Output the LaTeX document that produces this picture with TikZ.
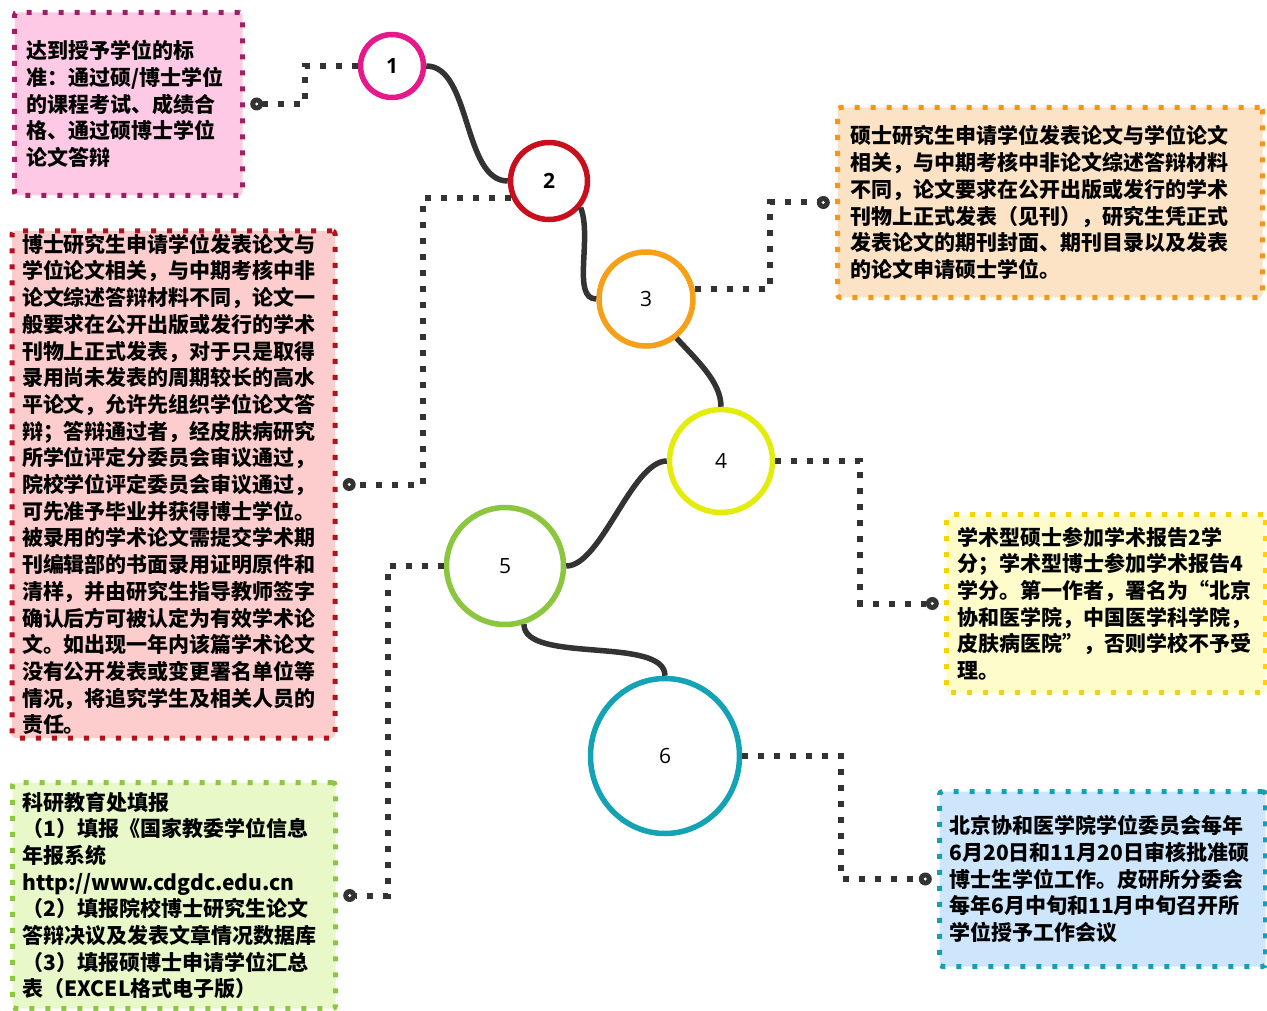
\documentclass[tikz,border=0pt]{standalone}
\usepackage{fontspec}
\usepackage{xcolor}
\usepackage{tikz}
\usetikzlibrary{positioning,shapes.geometric}
\newfontfamily\cjk{Noto Sans CJK SC}
\newfontfamily\numfont{Open Sans}
\definecolor{linegray}{HTML}{333333}
\definecolor{pinkfill}{HTML}{FDC9E4}
\definecolor{pinkline}{HTML}{9E1F63}
\definecolor{redfill}{HTML}{FDCDCD}
\definecolor{redline}{HTML}{B3111B}
\definecolor{greenfill}{HTML}{E8F8C9}
\definecolor{greenline}{HTML}{8DC63F}
\definecolor{orangefill}{HTML}{FDE3C6}
\definecolor{orangeline}{HTML}{F7941E}
\definecolor{yellowfill}{HTML}{FEFCCB}
\definecolor{yellowline}{HTML}{F4D20C}
\definecolor{bluefill}{HTML}{CDE6FB}
\definecolor{blueline}{HTML}{16A0AE}
\definecolor{stageone}{HTML}{E5198A}
\definecolor{stagetwo}{HTML}{C80F1E}
\definecolor{stagethree}{HTML}{F6A01A}
\definecolor{stagefour}{HTML}{E4EC0C}
\definecolor{stagefive}{HTML}{8CC63E}
\definecolor{stagesix}{HTML}{13A3B5}

\begin{document}
\begin{tikzpicture}[x=1pt, y=-1pt,
  infobox/.style={rectangle, rounded corners=3pt, line width=5pt, dash pattern=on 5pt off 11pt, anchor=north west, align=left, inner ysep=0pt, font=\cjk\bfseries\fontsize{21pt}{26.7pt}\selectfont},
  stage/.style={circle, line width=5.5pt, inner sep=0pt, font=\numfont\fontsize{21pt}{25pt}\selectfont},
  jointdot/.style={circle, fill=linegray, minimum size=13pt, inner sep=0pt, path picture={\fill[white] (path picture bounding box.center) circle (1.6pt);}},
  dotline/.style={draw=linegray, line width=6pt, dash pattern=on 6pt off 10pt},
  wire/.style={draw=linegray, line width=5.5pt}]
\useasboundingbox (0,0) rectangle (1267,1011);

\node[infobox, draw=pinkline, fill=pinkfill, minimum width=228pt, minimum height=183pt, text width=204pt, inner xsep=12pt] (pinkbox) at (12,10) {达到授予学位的标\\准：通过硕/博士学位\\的课程考试、成绩合\\格、通过硕博士学位\\论文答辩};
\node[infobox, draw=redline, fill=redfill, minimum width=323pt, minimum height=507pt, text width=303pt, inner xsep=10pt] (redbox) at (9.5,228.5) {博士研究生申请学位发表论文与\\学位论文相关，与中期考核中非\\论文综述答辩材料不同，论文一\\般要求在公开出版或发行的学术\\刊物上正式发表，对于只是取得\\录用尚未发表的周期较长的高水\\平论文，允许先组织学位论文答\\辩；答辩通过者，经皮肤病研究\\所学位评定分委员会审议通过，\\院校学位评定委员会审议通过，\\可先准予毕业并获得博士学位。\\被录用的学术论文需提交学术期\\刊编辑部的书面录用证明原件和\\清样，并由研究生指导教师签字\\确认后方可被认定为有效学术论\\文。如出现一年内该篇学术论文\\没有公开发表或变更署名单位等\\情况，将追究学生及相关人员的\\责任。};
\node[infobox, draw=greenline, fill=greenfill, minimum width=323pt, minimum height=226pt, text width=303pt, inner xsep=10pt] (greenbox) at (10,780) {科研教育处填报\\（1）填报《国家教委学位信息\\年报系统\\http://www.cdgdc.edu.cn\\（2）填报院校博士研究生论文\\答辩决议及发表文章情况数据库\\（3）填报硕博士申请学位汇总\\表（EXCEL格式电子版）};
\node[infobox, draw=orangeline, fill=orangefill, minimum width=425pt, minimum height=190pt, text width=399pt, inner xsep=13pt] (orangebox) at (835,105) {硕士研究生申请学位发表论文与学位论文\\相关，与中期考核中非论文综述答辩材料\\不同，论文要求在公开出版或发行的学术\\刊物上正式发表（见刊），研究生凭正式\\发表论文的期刊封面、期刊目录以及发表\\的论文申请硕士学位。};
\node[infobox, draw=yellowline, fill=yellowfill, minimum width=319pt, minimum height=178pt, text width=297pt, inner xsep=11pt] (yellowbox) at (944,512) {学术型硕士参加学术报告2学\\分；学术型博士参加学术报告4\\学分。第一作者，署名为“北京\\协和医学院，中国医学科学院，\\皮肤病医院”，否则学校不予受\\理。};
\node[infobox, draw=blueline, fill=bluefill, minimum width=326pt, minimum height=175pt, text width=306pt, inner xsep=10pt] (bluebox) at (937,789) {北京协和医学院学位委员会每年\\6月20日和11月20日审核批准硕\\博士生学位工作。皮研所分委会\\每年6月中旬和11月中旬召开所\\学位授予工作会议};

\node[jointdot, right=5pt of pinkbox] (pinkdot) {};
\node[jointdot, right=5pt of redbox] (reddot) {};
\node[jointdot, right=5pt of greenbox] (greendot) {};
\node[jointdot, left=5pt of orangebox] (orangedot) {};
\node[jointdot, left=5pt of yellowbox] (yellowdot) {};
\node[jointdot, left=5pt of bluebox] (bluedot) {};

\node[stage, draw=stageone, minimum size=63pt] (one) at (392,66) {\bfseries 1};
\node[stage, draw=stagetwo, minimum size=77pt] (two) at (549,181) {\bfseries 2};
\node[stage, draw=stagethree, minimum size=94pt] (three) at (646,299) {3};
\node[stage, draw=stagefour, minimum size=103pt] (four) at (721,461) {4};
\node[stage, draw=stagefive, minimum size=117pt] (five) at (505,566) {5};
\node[stage, ellipse, draw=stagesix, minimum width=149pt, minimum height=155pt] (six) at (665,756) {6};

\draw[wire] (one.east) .. controls +(45,0) and +(-45,0) .. (two.west);
\draw[wire] (two.-40) .. controls +(12,30) and +(-25,0) .. (three.west);
\draw[wire] (three.-52) .. controls +(20,22) and +(0,-25) .. (four.north);
\draw[wire] (four.west) .. controls +(-35,0) and +(35,0) .. (five.east);
\draw[wire] (five.-72) .. controls +(0,40) and +(0,-40) .. (six.north);

\draw[dotline] (one.west) -- ++(-53,0) |- (pinkdot);
\draw[dotline] (two.204) -- ++(-88,0) |- (reddot);
\draw[dotline] (three.12) -- ++(75,0) |- (orangedot);
\draw[dotline] (four.east) -- ++(85,0) |- (yellowdot);
\draw[dotline] (five.west) -- ++(-56,0) |- (greendot);
\draw[dotline] (six.east) -- ++(99,0) |- (bluedot);
\end{tikzpicture}
\end{document}
